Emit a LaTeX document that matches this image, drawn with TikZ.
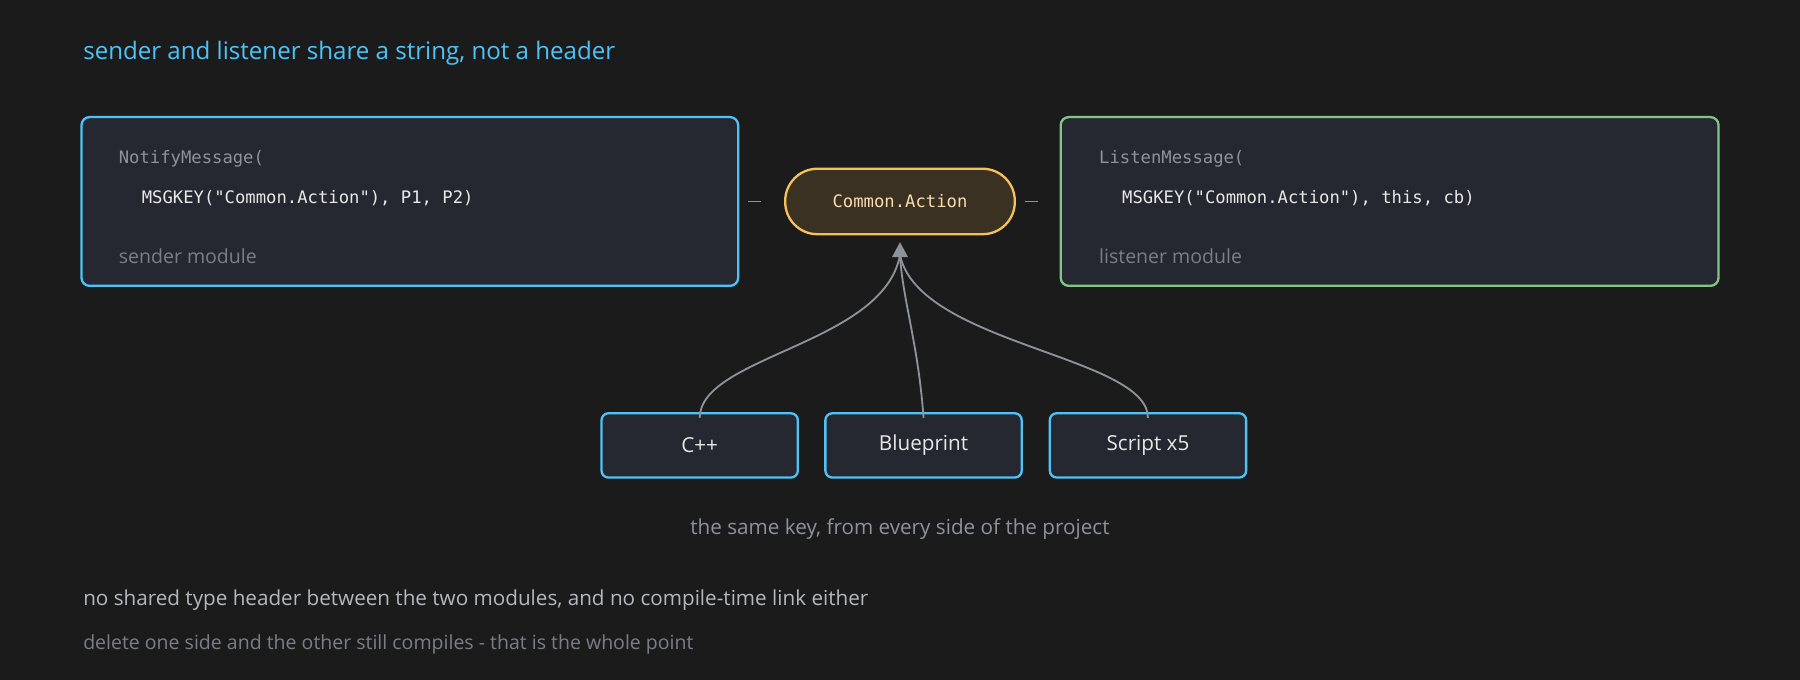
\documentclass[tikz,border=0pt]{standalone}
\usepackage{fontspec}
\setmainfont{Open Sans}
\setmonofont{DejaVu Sans Mono}
\usetikzlibrary{arrows.meta}
\definecolor{bg}{HTML}{1B1B1C}
\definecolor{boxfill}{HTML}{252830}
\definecolor{blu}{HTML}{4FC3F7}
\definecolor{grn}{HTML}{81C784}
\definecolor{org}{HTML}{F5C15A}
\definecolor{orgfill}{HTML}{3A3122}
\definecolor{orgtxt}{HTML}{F7DDB0}
\definecolor{gr}{HTML}{8E9299}
\definecolor{lg}{HTML}{B5B8BD}
\definecolor{dg}{HTML}{7A7E85}
\definecolor{wt}{HTML}{E8E8E8}
\begin{document}
\begin{tikzpicture}[x=1pt,y=-1pt,
  box/.style={draw=#1,line width=2pt,fill=boxfill,rounded corners=7pt},
  mono/.style={anchor=west,font=\ttfamily\fontsize{15}{18}\selectfont},
  small/.style={draw=blu,line width=2pt,fill=boxfill,rounded corners=6pt,minimum width=171pt,minimum height=56pt,text=wt,font=\fontsize{18}{22}\selectfont},
  link/.style={draw=gr,line width=1.6pt}]
\fill[bg] (0,0) rectangle (1568,592);
\useasboundingbox (0,0) rectangle (1568,592);
\node[anchor=west,text=blu,font=\fontsize{21}{25}\selectfont] (title) at (69,46) {sender and listener share a string, not a header};
\node[box=blu,minimum width=572pt,minimum height=147pt] (snd) at (357,175.5) {};
\node[mono,text=gr] (s1) at (100,138) {NotifyMessage(};
\node[mono,text=wt] (s2) at (120,173) {MSGKEY("Common.Action"), P1, P2)};
\node[anchor=west,text=dg,font=\fontsize{17}{20}\selectfont] (s3) at (100,223) {sender module};
\node[box=grn,minimum width=573pt,minimum height=147pt] (lst) at (1210.5,175.5) {};
\node[mono,text=gr] (l1) at (954,138) {ListenMessage(};
\node[mono,text=wt] (l2) at (974,173) {MSGKEY("Common.Action"), this, cb)};
\node[anchor=west,text=dg,font=\fontsize{17}{20}\selectfont] (l3) at (954,223) {listener module};
\node[draw=org,line width=2pt,fill=orgfill,rounded corners=28pt,minimum width=200pt,minimum height=57pt,text=orgtxt,font=\ttfamily\fontsize{15}{18}\selectfont] (key) at (784,175.5) {Common.Action};
\draw[gr,line width=1.5pt] ([xshift=8pt]snd.east) -- ([xshift=-20pt]key.west);
\draw[gr,line width=1.5pt] ([xshift=8pt]key.east) -- ([xshift=-19pt]lst.west);
\node[small] (cpp) at (609.5,388) {C++};
\node[small] (bp) at (804.5,388) {Blueprint};
\node[small] (sc) at (1000,388) {Script x5};
\coordinate (tip) at (784,211);
\draw[link] ([yshift=-5pt]cpp.north) .. controls (610,310) and (770,300) .. (784,222);
\draw[link] ([yshift=-5pt]bp.north) .. controls (800,300) and (786,260) .. (784,222);
\draw[link] ([yshift=-5pt]sc.north) .. controls (1000,310) and (800,300) .. (784,222);
\fill[gr] (tip) -- (777,224) -- (791,224) -- cycle;
\node[text=gr,font=\fontsize{18}{22}\selectfont] (cap) at (784,461) {the same key, from every side of the project};
\node[anchor=west,text=lg,font=\fontsize{18}{22}\selectfont] (n1) at (69,523) {no shared type header between the two modules, and no compile-time link either};
\node[anchor=west,text=dg,font=\fontsize{17}{21}\selectfont] (n2) at (69,561) {delete one side and the other still compiles - that is the whole point};
\end{tikzpicture}
\end{document}
